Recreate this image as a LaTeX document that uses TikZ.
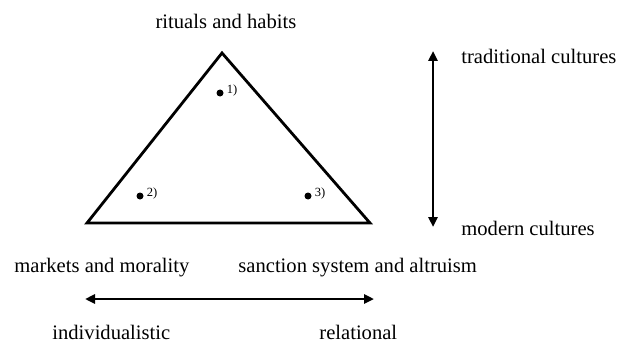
\documentclass[tikz,border=0pt]{standalone}
\usepackage{fontspec}
\setmainfont{Liberation Serif}
\usetikzlibrary{arrows.meta}
\tikzset{
  lbl/.style={inner sep=0pt, font=\fontsize{20.6}{24}\selectfont},
  num/.style={inner sep=0pt, font=\fontsize{12.5}{14}\selectfont, anchor=west},
  dot/.style={circle, fill=black, inner sep=0pt, minimum size=7pt},
}
\begin{document}
\begin{tikzpicture}[x=1pt, y=-1pt, line width=2.8pt, >={Triangle[length=10pt,width=9pt]}]
  \useasboundingbox (0,0) rectangle (617,342);
  % triangle
  \coordinate (top) at (222,53);
  \coordinate (left) at (87,223);
  \coordinate (right) at (370,223);
  \draw[line join=miter] (top) -- (right) -- (left) -- cycle;
  % points inside
  \node[dot] (p1) at (220,93) {};
  \node[dot] (p2) at (140,196) {};
  \node[dot] (p3) at (308,196) {};
  \node[num] at ([xshift=0.5pt,yshift=3pt]p1.east) {1)};
  \node[num] at ([xshift=0.5pt,yshift=3pt]p2.east) {2)};
  \node[num] at ([xshift=0.5pt,yshift=3pt]p3.east) {3)};
  % corner labels
  \node[lbl, anchor=base] (rit) at (226,29) {rituals and habits};
  \node[lbl, anchor=base west] (mkt) at (13,272) {markets and morality};
  \node[lbl, anchor=base west] (san) at (237,272) {sanction system and altruism};
  % vertical axis
  \coordinate (vt) at (433,51);
  \coordinate (vb) at (433,227);
  \draw[<->] (vt) -- (vb);
  \node[lbl, anchor=base west] (trad) at (460,64) {traditional cultures};
  \node[lbl, anchor=base west] (mod) at (460,235) {modern cultures};
  % horizontal axis
  \coordinate (hl) at (85,299);
  \coordinate (hr) at (374,299);
  \draw[<->] (hl) -- (hr);
  \node[lbl, anchor=base west] (ind) at (51,339) {individualistic};
  \node[lbl, anchor=base west] (rel) at (318,339) {relational};
\end{tikzpicture}
\end{document}
